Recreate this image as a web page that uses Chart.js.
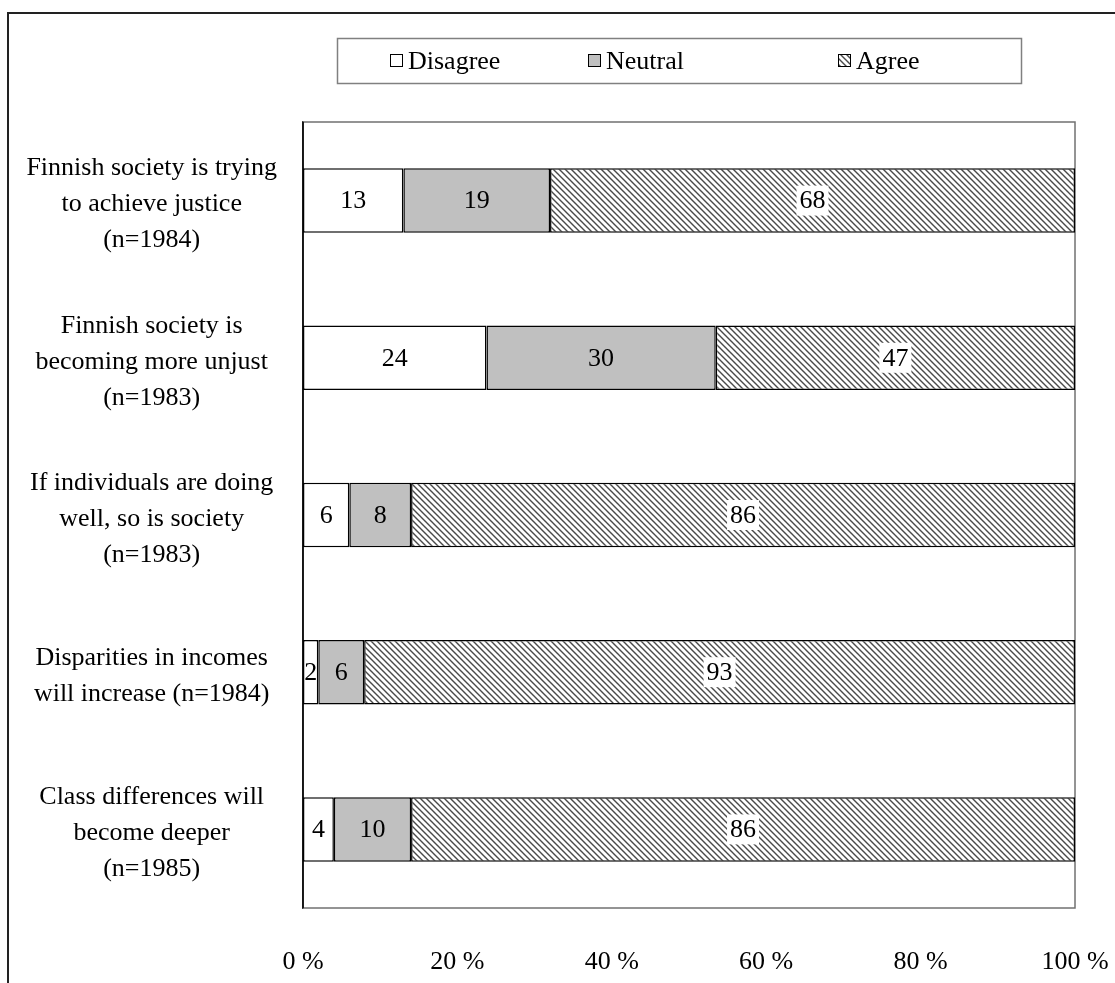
<!DOCTYPE html>
<html>
<head>
<meta charset="utf-8">
<script src="https://cdn.jsdelivr.net/npm/chart.js@4.4.1/dist/chart.umd.min.js"></script>
<style>
  html, body { margin: 0; padding: 0; background: #fff; }
  #wrap { width: 1115px; height: 983px; position: relative; }
</style>
</head>
<body>
<div id="wrap"><canvas id="chart"></canvas></div>
<script>
// data
const statements = [
    ['Finnish society is trying', 'to achieve justice', '(n=1984)'],
    ['Finnish society is', 'becoming more unjust', '(n=1983)'],
    ['If individuals are doing', 'well, so is society', '(n=1983)'],
    ['Disparities in incomes', 'will increase (n=1984)'],
    ['Class differences will', 'become deeper', '(n=1985)']
];
const seriesNames = ['Disagree', 'Neutral', 'Agree'];
const disagree = [13, 24, 6, 2, 4];
const neutral = [19, 30, 8, 6, 10];
const agree = [68, 47, 86, 93, 86];
const xTicks = [0, 20, 40, 60, 80, 100];

const FONT = '"Liberation Serif", "Times New Roman", serif';

// rows are drawn as shares of 100 %, labels keep the printed values
let totals = disagree.map((v, i) => v + neutral[i] + agree[i]);
let share = arr => arr.map((v, i) => v / totals[i] * 100);

function hatch() {
    let c = document.createElement('canvas');
    c.width = 6; c.height = 6;
    let g = c.getContext('2d');
    g.fillStyle = '#fff';
    g.fillRect(0, 0, 6, 6);
    g.strokeStyle = '#4a4a4a';
    g.lineWidth = 1.4;
    g.beginPath();
    g.moveTo(-1, -1); g.lineTo(7, 7);
    g.moveTo(-1, 5); g.lineTo(1, 7);
    g.moveTo(5, -1); g.lineTo(7, 1);
    g.stroke();
    return g.createPattern(c, 'repeat');
}
const agreeFill = hatch();
const fills = ['#ffffff', '#c0c0c0', agreeFill];

//- value labels inside the bars -
const valueLabels = {
    id: 'valueLabels',
    afterDatasetsDraw(chart) {
        let ctx = chart.ctx;
        ctx.save();
        ctx.font = '26px ' + FONT;
        ctx.textAlign = 'center';
        ctx.textBaseline = 'middle';
        chart.data.datasets.forEach((ds, di) => {
            chart.getDatasetMeta(di).data.forEach((bar, i) => {
                let txt = String(ds.printed[i]);
                let x = (bar.x + bar.base) / 2;
                let y = bar.y;
                if (di === 2) {
                    let w = ctx.measureText(txt).width + 6;
                    ctx.fillStyle = '#fff';
                    ctx.fillRect(x - w / 2, y - 15, w, 30);
                }
                ctx.fillStyle = '#000';
                ctx.fillText(txt, x, y + 1);
            });
        });
        ctx.restore();
    }
};

//- frame, plot border and boxed legend -
const frameAndLegend = {
    id: 'frameAndLegend',
    beforeDatasetsDraw(chart) {
        let ctx = chart.ctx;
        let a = chart.chartArea;
        ctx.save();
        ctx.strokeStyle = '#707070';
        ctx.lineWidth = 1.5;
        ctx.strokeRect(a.left, a.top, a.right - a.left, a.bottom - a.top);
        ctx.strokeStyle = '#000';
        ctx.beginPath();
        ctx.moveTo(a.left, a.top);
        ctx.lineTo(a.left, a.bottom);
        ctx.stroke();
        ctx.restore();
    },
    afterDraw(chart) {
        let ctx = chart.ctx;
        ctx.save();
        // outer frame (cut at right and bottom)
        ctx.strokeStyle = '#222';
        ctx.lineWidth = 2;
        ctx.beginPath();
        ctx.moveTo(8, 983);
        ctx.lineTo(8, 13);
        ctx.lineTo(1115, 13);
        ctx.stroke();
        // legend box
        ctx.strokeStyle = '#808080';
        ctx.lineWidth = 1.5;
        ctx.strokeRect(337.5, 38.5, 684, 45);
        let keyX = [390, 588, 838];
        ctx.font = '26px ' + FONT;
        ctx.textBaseline = 'middle';
        ctx.textAlign = 'left';
        seriesNames.forEach((name, i) => {
            ctx.fillStyle = fills[i];
            ctx.fillRect(keyX[i], 54, 13, 13);
            ctx.strokeStyle = '#000';
            ctx.lineWidth = 1;
            ctx.strokeRect(keyX[i] + 0.5, 54.5, 12, 12);
            ctx.fillStyle = '#000';
            ctx.fillText(name, keyX[i] + 18, 62);
        });
        ctx.restore();
    }
};

let datasets = [disagree, neutral, agree].map((arr, i) => ({
    label: seriesNames[i],
    data: share(arr),
    printed: arr,
    backgroundColor: fills[i],
    borderColor: '#000',
    borderWidth: 1.5,
    borderSkipped: false,
    barPercentage: 0.41,
    categoryPercentage: 1
}));

new Chart(document.getElementById('chart'), {
    type: 'bar',
    data: { labels: statements, datasets: datasets },
    plugins: [frameAndLegend, valueLabels],
    options: {
        indexAxis: 'y',
        responsive: true,
        maintainAspectRatio: false,
        animation: false,
        layout: { padding: { top: 122, right: 40, left: 8, bottom: 0 } },
        plugins: {
            legend: { display: false },
            tooltip: { enabled: false }
        },
        scales: {
            x: {
                stacked: true,
                min: xTicks[0],
                max: xTicks[xTicks.length - 1],
                afterBuildTicks: s => { s.ticks = xTicks.map(v => ({ value: v })); },
                ticks: {
                    callback: v => v + ' %',
                    padding: 39,
                    maxRotation: 0,
                    color: '#000',
                    font: { family: FONT, size: 26 }
                },
                grid: { display: false, drawTicks: false },
                border: { display: false },
                afterFit: s => { s.height = 75; s.paddingLeft = 0; s.paddingRight = 0; }
            },
            y: {
                stacked: true,
                ticks: {
                    crossAlign: 'center',
                    padding: 26,
                    labelOffset: 4,
                    color: '#000',
                    font: { family: FONT, size: 26, lineHeight: 1.385 }
                },
                grid: { display: false, drawTicks: false },
                border: { display: true, color: '#000', width: 1.5 },
                afterFit: s => { s.width = 295; s.paddingTop = 0; s.paddingBottom = 0; }
            }
        }
    }
});
</script>
</body>
</html>
